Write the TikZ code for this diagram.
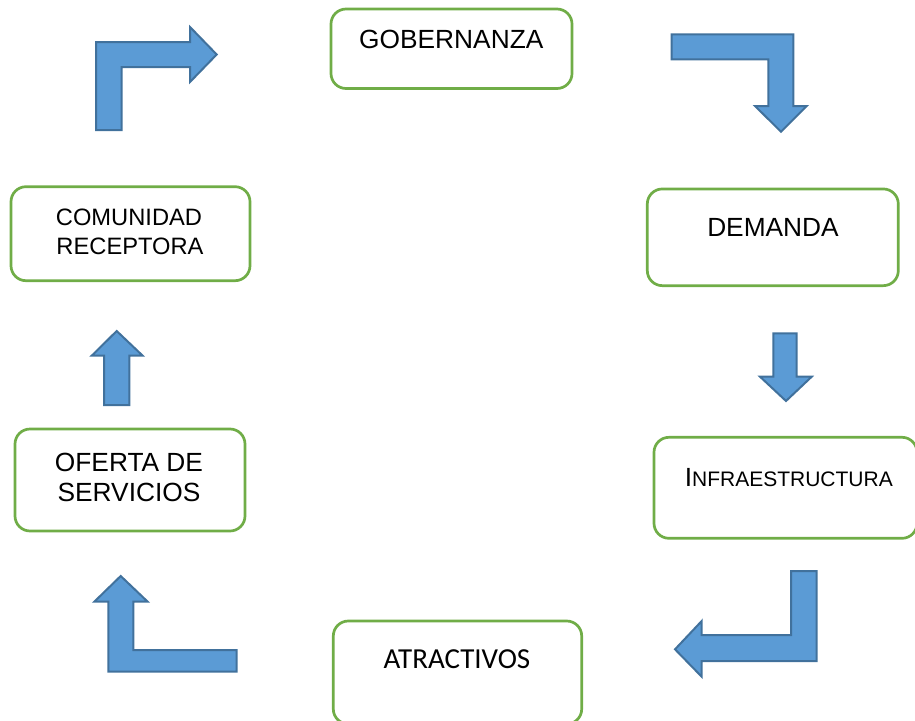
\documentclass[tikz,border=0pt]{standalone}
\usepackage{fontspec}
\setmainfont{Liberation Sans}
\newfontfamily\calibrifont{Carlito}
\definecolor{boxgreen}{HTML}{70AD47}
\definecolor{arrowfill}{HTML}{5B9BD5}
\definecolor{arrowedge}{HTML}{41719C}
\tikzset{
  stagebox/.style = {draw=boxgreen, line width=2.7pt, rounded corners=15pt, fill=white},
  blockarrow/.style = {fill=arrowfill, draw=arrowedge, line width=2pt, line join=miter},
  stagetext/.style = {anchor=base, inner sep=0pt, font=\fontsize{26.3}{29.3}\selectfont}
}
\begin{document}
\begin{tikzpicture}[x=1pt, y=-1pt]
            \useasboundingbox (0, 0) rectangle (915, 720);
            % cajas
            \node[stagebox, minimum width=241pt, minimum height=79.5pt] (gob) at (451.5, 48.75) {};
            \node[stagebox, minimum width=251pt, minimum height=96.7pt] (dem) at (772.8, 237.3) {};
            \node[stagebox, minimum width=263pt, minimum height=101pt] (inf) at (785.5, 487.8) {};
            \node[stagebox, minimum width=248.4pt, minimum height=103pt] (atr) at (457.5, 672.5) {};
            \node[stagebox, minimum width=230pt, minimum height=102pt] (ofe) at (130, 480) {};
            \node[stagebox, minimum width=239pt, minimum height=94pt] (com) at (130.5, 233.7) {};
            % textos
            \node[stagetext] (gobtext) at (451.3, 48.3) {GOBERNANZA};
            \node[stagetext] (demtext) at (773, 236.7) {DEMANDA};
            \node[stagetext] (inftext) at (788.8, 486) {I{\fontsize{21}{24}\selectfont NFRAESTRUCTURA}};
            \node[stagetext, font=\calibrifont\fontsize{29}{32}\selectfont] (atrtext) at (457, 668.3) {ATRACTIVOS};
            \node[stagetext] (ofetext1) at (129, 471.7) {OFERTA DE};
            \node[stagetext] (ofetext2) at (129, 501) {SERVICIOS};
            \node[stagetext, font=\fontsize{23.7}{29}\selectfont] (comtext1) at (129, 225) {COMUNIDAD};
            \node[stagetext, font=\fontsize{23.7}{29}\selectfont] (comtext2) at (130, 254) {RECEPTORA};
            % flechas
            \draw[blockarrow] (96, 130) -- (96, 42) -- (190, 42) -- (190, 27) -- (216.7, 54.5)
                              -- (190, 82) -- (190, 67) -- (121.7, 67) -- (121.7, 130) -- cycle;
            \draw[blockarrow] (671.7, 34.3) -- (793.3, 34.3) -- (793.3, 106) -- (806.7, 106) -- (781, 131.7)
                              -- (755, 106) -- (768.3, 106) -- (768.3, 59.3) -- (671.7, 59.3) -- cycle;
            \draw[blockarrow] (773.3, 333.3) -- (796.7, 333.3) -- (796.7, 376.7) -- (811.7, 376.7)
                              -- (786, 401) -- (760, 376.7) -- (773.3, 376.7) -- cycle;
            \draw[blockarrow] (816.7, 571) -- (816.7, 661) -- (701.7, 661) -- (701.7, 676.7) -- (675, 649.3)
                              -- (701.7, 621) -- (701.7, 635) -- (791, 635) -- (791, 571) -- cycle;
            \draw[blockarrow] (236.7, 650) -- (236.7, 671.7) -- (108.3, 671.7) -- (108.3, 601.7) -- (94.3, 601.7)
                              -- (120.7, 576) -- (147.7, 601.7) -- (133.3, 601.7) -- (133.3, 650) -- cycle;
            \draw[blockarrow] (104, 405) -- (104, 355.7) -- (91.7, 355.7) -- (116.7, 331)
                              -- (142.7, 355.7) -- (129.3, 355.7) -- (129.3, 405) -- cycle;
        \end{tikzpicture}
\end{document}
